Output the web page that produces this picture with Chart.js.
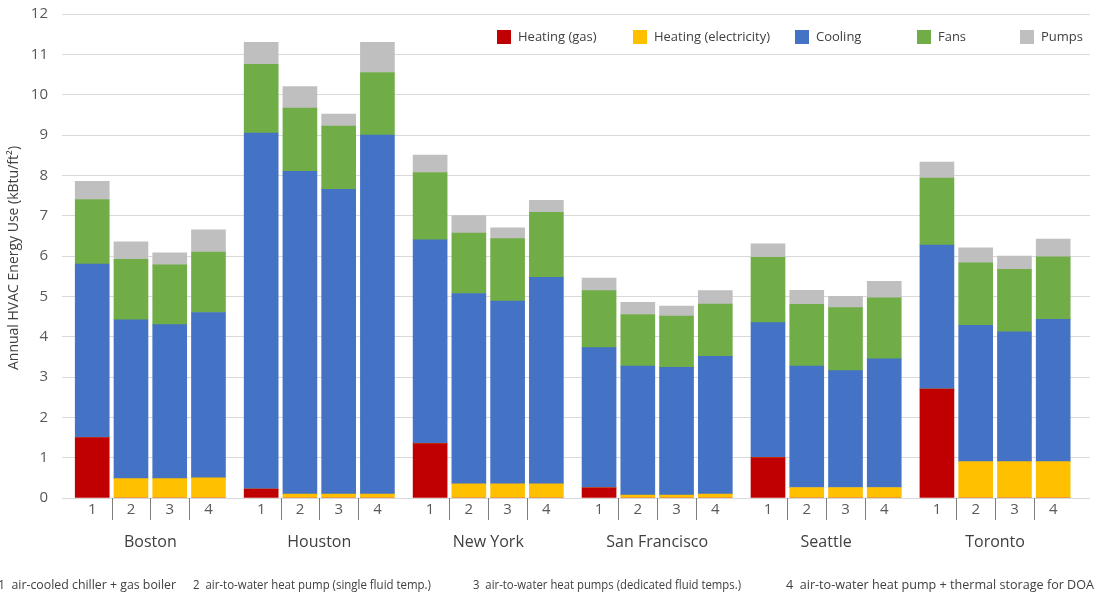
<!DOCTYPE html>
<html>
<head>
<meta charset="utf-8">
<script src="https://cdn.jsdelivr.net/npm/chart.js@4.4.1/dist/chart.umd.min.js"></script>
<style>
  body { margin: 0; background: #fff; }
  canvas { display: block; }
</style>
</head>
<body>
<canvas id="hvacChart" width="1094" height="595"></canvas>
<script>
'use strict';

// ------------------------------------------------------- //
// Data (kBtu/ft2), city-major, scenarios 1-4 per city
// ------------------------------------------------------ //
var cities = ['Boston', 'Houston', 'New York', 'San Francisco', 'Seattle', 'Toronto'];
var scenarios = ['1', '2', '3', '4'];
var yTicks = [0, 1, 2, 3, 4, 5, 6, 7, 8, 9, 10, 11, 12];

var heatingGas = [1.5, 0, 0, 0,  0.22, 0, 0, 0,  1.35, 0, 0, 0,  0.25, 0, 0, 0,  1.0, 0, 0, 0,  2.7, 0, 0, 0];
var heatingElec = [0, 0.48, 0.48, 0.5,  0, 0.1, 0.1, 0.1,  0, 0.35, 0.35, 0.35,  0, 0.07, 0.07, 0.1,  0, 0.26, 0.26, 0.26,  0, 0.9, 0.9, 0.9];
var cooling = [4.3, 3.94, 3.82, 4.1,  8.83, 8.0, 7.55, 8.9,  5.05, 4.72, 4.53, 5.12,  3.48, 3.2, 3.17, 3.41,  3.35, 3.01, 2.9, 3.19,  3.57, 3.38, 3.22, 3.53];
var fans = [1.6, 1.5, 1.48, 1.5,  1.7, 1.57, 1.57, 1.55,  1.67, 1.5, 1.55, 1.61,  1.41, 1.28, 1.27, 1.3,  1.62, 1.53, 1.56, 1.51,  1.66, 1.55, 1.55, 1.55];
var pumps = [0.45, 0.43, 0.3, 0.55,  0.55, 0.53, 0.3, 0.75,  0.43, 0.43, 0.27, 0.3,  0.31, 0.3, 0.25, 0.33,  0.33, 0.35, 0.28, 0.41,  0.4, 0.37, 0.33, 0.44];

var footnotes = [
    '1  air-cooled chiller + gas boiler',
    '2  air-to-water heat pump (single fluid temp.)',
    '3  air-to-water heat pumps (dedicated fluid temps.)',
    '4  air-to-water heat pump + thermal storage for DOA'
];

// category spacing: each city group is a bit wider than 4 bars
var GROUP = 4.36;
var positions = [];
cities.forEach(function (c, g) {
    scenarios.forEach(function (s, i) { positions.push(g * GROUP + i); });
});

function series(values) {
    return values.map(function (v, k) { return { x: positions[k], y: v }; });
}

var textColor = '#404040';
var tickColor = '#595959';
var fontFamily = "'Open Sans', 'Liberation Sans', sans-serif";

var seriesDefs = [
    { label: 'Heating (gas)', data: heatingGas, color: '#c00000' },
    { label: 'Heating (electricity)', data: heatingElec, color: '#ffc000' },
    { label: 'Cooling', data: cooling, color: '#4472c4' },
    { label: 'Fans', data: fans, color: '#70ad47' },
    { label: 'Pumps', data: pumps, color: '#bfbfbf' }
];

// ------------------------------------------------------- //
// Extra drawing: axis title, city names, separators, legend, footnote
// ------------------------------------------------------ //
var decorations = {
    id: 'decorations',
    afterDraw: function (chart) {
        var ctx = chart.ctx;
        var xs = chart.scales.x;
        var area = chart.chartArea;
        ctx.save();

        // y axis title
        ctx.save();
        ctx.translate(14, 258);
        ctx.rotate(-Math.PI / 2);
        ctx.fillStyle = textColor;
        ctx.font = '14px ' + fontFamily;
        ctx.textAlign = 'center';
        ctx.textBaseline = 'middle';
        ctx.fillText('Annual HVAC Energy Use (kBtu/ft\u00B2)', 0, 0);
        ctx.restore();

        // separators between scenarios
        ctx.strokeStyle = '#7f7f7f';
        ctx.lineWidth = 1;
        cities.forEach(function (c, g) {
            for (var i = 0; i < 3; i++) {
                var px = Math.round(xs.getPixelForValue(g * GROUP + i + 0.5)) + 0.5;
                ctx.beginPath();
                ctx.moveTo(px, area.bottom);
                ctx.lineTo(px, area.bottom + 22);
                ctx.stroke();
            }
        });

        // city names
        ctx.fillStyle = textColor;
        ctx.font = '16px ' + fontFamily;
        ctx.textAlign = 'center';
        ctx.textBaseline = 'middle';
        cities.forEach(function (c, g) {
            ctx.fillText(c, xs.getPixelForValue(g * GROUP + 1.5), 542);
        });

        // legend
        var legendX = [497, 633, 795, 917, 1020];
        var legendW = [80, 116, 46, 28, 42];
        ctx.font = '13px ' + fontFamily;
        ctx.textAlign = 'left';
        seriesDefs.forEach(function (d, k) {
            ctx.fillStyle = d.color;
            ctx.fillRect(legendX[k], 30, 14, 14);
            ctx.fillStyle = textColor;
            ctx.fillText(d.label, legendX[k] + 21, 37, legendW[k]);
        });

        // footnote
        var noteX = [-2, 193, 473, 786];
        var noteW = [178, 238, 268, 308];
        ctx.font = '13px ' + fontFamily;
        footnotes.forEach(function (t, k) {
            ctx.fillText(t, noteX[k], 585, noteW[k]);
        });

        ctx.restore();
    }
};

var myChart = new Chart(document.getElementById('hvacChart'), {
    type: 'bar',
    data: {
        datasets: seriesDefs.map(function (d) {
            return {
                label: d.label,
                data: series(d.data),
                backgroundColor: d.color,
                borderWidth: 0,
                barThickness: 34
            };
        })
    },
    options: {
        responsive: false,
        animation: false,
        layout: { padding: { top: 14, right: 4, left: 0, bottom: 0 } },
        plugins: {
            legend: { display: false },
            tooltip: { enabled: false }
        },
        scales: {
            x: {
                type: 'linear',
                stacked: true,
                offset: false,
                min: -0.78,
                max: 5 * GROUP + 3 + 0.95,
                grid: { display: false },
                border: { display: false },
                afterBuildTicks: function (scale) {
                    scale.ticks = positions.map(function (p) { return { value: p }; });
                },
                afterFit: function (scale) {
                    scale.height = 97;
                    scale.paddingLeft = 0;
                    scale.paddingRight = 0;
                },
                ticks: {
                    autoSkip: false,
                    maxRotation: 0,
                    padding: -5,
                    color: tickColor,
                    font: { size: 15, family: fontFamily },
                    callback: function (value, index) { return scenarios[index % 4]; }
                }
            },
            y: {
                stacked: true,
                min: 0,
                max: 12,
                afterBuildTicks: function (scale) {
                    scale.ticks = yTicks.map(function (v) { return { value: v }; });
                },
                afterFit: function (scale) {
                    scale.width = 62;
                    scale.paddingTop = 0;
                    scale.paddingBottom = 0;
                },
                grid: { color: '#d9d9d9', drawTicks: false },
                border: { display: false },
                ticks: {
                    padding: 14,
                    color: tickColor,
                    font: { size: 15, family: fontFamily }
                }
            }
        }
    },
    plugins: [decorations]
});
</script>
</body>
</html>
